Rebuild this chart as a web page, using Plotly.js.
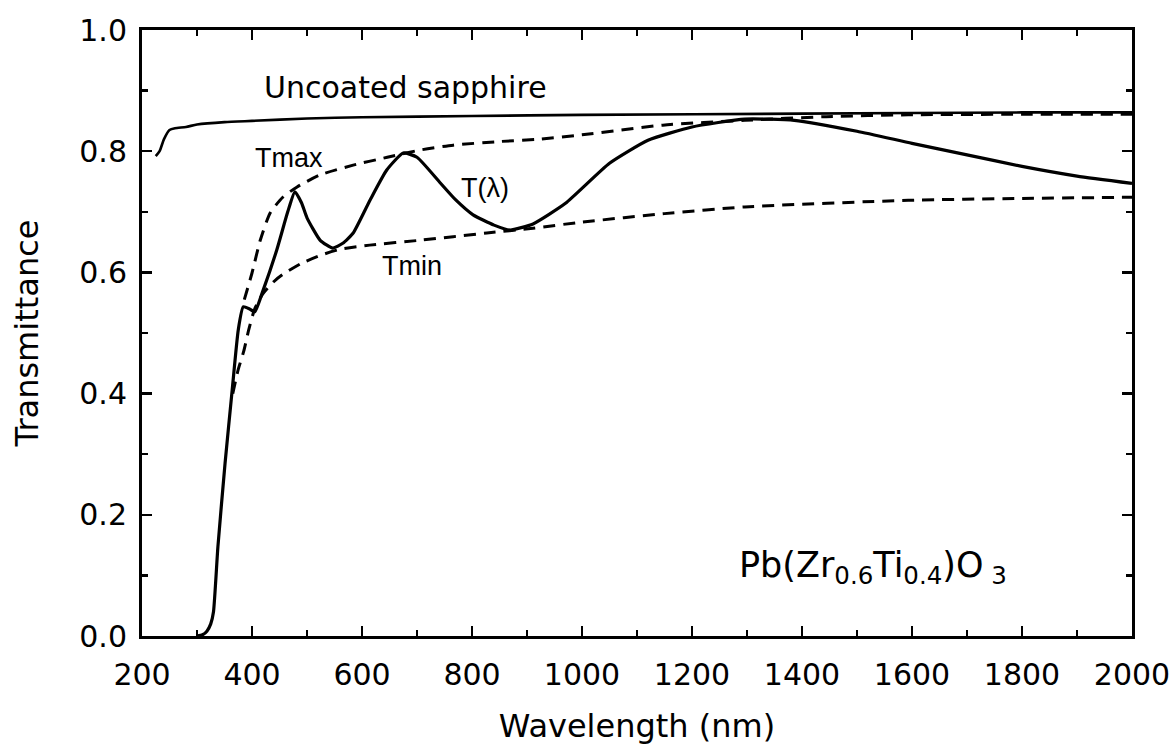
<!DOCTYPE html>
<html>
<head>
<meta charset="utf-8">
<script src="https://cdn.plot.ly/plotly-3.0.1.min.js"></script>
<style>html,body{margin:0;padding:0;background:#fff;}#chart{width:1175px;height:749px;}</style>
</head>
<body>
<div id="chart"></div>
<script>
// Uncoated sapphire substrate
const sapphireX = [225, 232, 240, 250, 260, 280, 300, 350, 400, 500, 600, 800, 1000, 1400, 1800, 2000];
const sapphireY = [0.792, 0.80, 0.82, 0.835, 0.838, 0.840, 0.844, 0.848, 0.850, 0.854, 0.856, 0.858, 0.860, 0.862, 0.864, 0.864];

// Measured film transmittance T(lambda)
const tX = [300, 310, 318, 325, 330, 338, 351, 364, 375, 384, 395, 405, 420, 445, 465, 478, 490, 500, 524, 547, 565, 584, 615, 645, 675, 700, 742, 770, 802, 840, 869, 911, 970, 1050, 1120, 1200, 1296, 1386, 1500, 1600, 1700, 1800, 1900, 2000];
const tY = [0.0, 0.002, 0.008, 0.02, 0.04, 0.147, 0.285, 0.406, 0.505, 0.543, 0.540, 0.535, 0.57, 0.637, 0.70, 0.733, 0.715, 0.69, 0.653, 0.640, 0.648, 0.665, 0.72, 0.769, 0.797, 0.79, 0.748, 0.72, 0.695, 0.678, 0.670, 0.68, 0.714, 0.78, 0.818, 0.840, 0.853, 0.851, 0.833, 0.813, 0.794, 0.775, 0.759, 0.747];

// Envelope Tmax
const tmaxX = [386, 400, 415, 433, 456, 482, 524, 584, 646, 706, 766, 851, 924, 1000, 1147, 1296, 1444, 1593, 1800, 2000];
const tmaxY = [0.555, 0.599, 0.653, 0.698, 0.724, 0.741, 0.761, 0.777, 0.790, 0.802, 0.810, 0.816, 0.820, 0.827, 0.843, 0.851, 0.857, 0.860, 0.861, 0.861];

// Envelope Tmin
const tminX = [365, 375, 385, 394, 405, 420, 440, 455, 490, 527, 560, 614, 705, 827, 911, 1000, 1150, 1296, 1593, 1800, 2000];
const tminY = [0.40, 0.44, 0.47, 0.505, 0.54, 0.565, 0.585, 0.596, 0.615, 0.629, 0.638, 0.645, 0.653, 0.665, 0.673, 0.683, 0.697, 0.708, 0.719, 0.722, 0.724];

const labelSapphire = "Uncoated sapphire";
const labelTmax = "Tmax";
const labelTmin = "Tmin";
const labelT = "T(λ)";
const labelFormula = "Pb(Zr<sub>0.6</sub>Ti<sub>0.4</sub>)O<sub> 3</sub>";

const dashStyle = "12px,8px";
const traces = [
  {x: sapphireX, y: sapphireY, mode: "lines", line: {color: "#000", width: 2.6, shape: "spline", smoothing: 0.6}, hoverinfo: "skip"},
  {x: tmaxX, y: tmaxY, mode: "lines", line: {color: "#000", width: 3, dash: dashStyle, shape: "spline", smoothing: 0.6}, hoverinfo: "skip"},
  {x: tminX, y: tminY, mode: "lines", line: {color: "#000", width: 3, dash: dashStyle, shape: "spline", smoothing: 0.6}, hoverinfo: "skip"},
  {x: tX, y: tY, mode: "lines", line: {color: "#000", width: 3.2, shape: "spline", smoothing: 0.5}, hoverinfo: "skip"}
];

const tickFont = {family: "DejaVu Sans", size: 30, color: "#000"};
const layout = {
  width: 1175, height: 749,
  margin: {l: 142, r: 43, t: 30, b: 113},
  paper_bgcolor: "#fff", plot_bgcolor: "#fff",
  showlegend: false,
  xaxis: {
    range: [200, 2000], tick0: 200, dtick: 200,
    ticks: "inside", ticklen: 10, tickwidth: 2.5, tickcolor: "#000",
    minor: {dtick: 100, ticks: "inside", ticklen: 6, tickwidth: 2.5, tickcolor: "#000"},
    showline: true, linecolor: "#000", linewidth: 3, mirror: "ticks",
    showgrid: false, zeroline: false,
    tickfont: tickFont, ticklabelstandoff: 10,
    title: {text: "Wavelength (nm)", font: {family: "DejaVu Sans", size: 32, color: "#000"}, standoff: 24}
  },
  yaxis: {
    range: [0, 1], tick0: 0, dtick: 0.2, tickformat: ".1f",
    ticks: "inside", ticklen: 10, tickwidth: 2.5, tickcolor: "#000",
    minor: {dtick: 0.1, ticks: "inside", ticklen: 6, tickwidth: 2.5, tickcolor: "#000"},
    showline: true, linecolor: "#000", linewidth: 3, mirror: "ticks",
    showgrid: false, zeroline: false,
    tickfont: tickFont, ticklabelstandoff: 6,
    title: {text: "Transmittance", font: {family: "DejaVu Sans", size: 32, color: "#000"}, standoff: 32}
  },
  annotations: [
    {x: 262, y: 87, text: labelSapphire, showarrow: false, xanchor: "left", yanchor: "middle", font: {family: "DejaVu Sans", size: 30, color: "#000"}},
    {x: 289, y: 158, text: labelTmax, showarrow: false, xanchor: "center", yanchor: "middle", font: {family: "Liberation Sans", size: 27, color: "#000"}},
    {x: 412, y: 266, text: labelTmin, showarrow: false, xanchor: "center", yanchor: "middle", font: {family: "Liberation Sans", size: 27, color: "#000"}},
    {x: 485, y: 188, text: labelT, showarrow: false, xanchor: "center", yanchor: "middle", font: {family: "Liberation Sans", size: 27, color: "#000"}},
    {x: 737, y: 567, text: labelFormula, showarrow: false, xanchor: "left", yanchor: "middle", font: {family: "DejaVu Sans", size: 35, color: "#000"}}
  ]
};

// annotation positions were read in pixels; convert them to data coordinates via the axis ranges
const plotL = 142, plotT = 30, plotW = 1175 - 142 - 43, plotH = 749 - 30 - 113;
function px2x(px) { return layout.xaxis.range[0] + (px - plotL) / plotW * (layout.xaxis.range[1] - layout.xaxis.range[0]); }
function px2y(py) { return layout.yaxis.range[1] - (py - plotT) / plotH * (layout.yaxis.range[1] - layout.yaxis.range[0]); }
layout.annotations.forEach(a => { a.xref = "x"; a.yref = "y"; a.x = px2x(a.x); a.y = px2y(a.y); });

Plotly.newPlot("chart", traces, layout, {displayModeBar: false, staticPlot: true});
</script>
</body>
</html>
